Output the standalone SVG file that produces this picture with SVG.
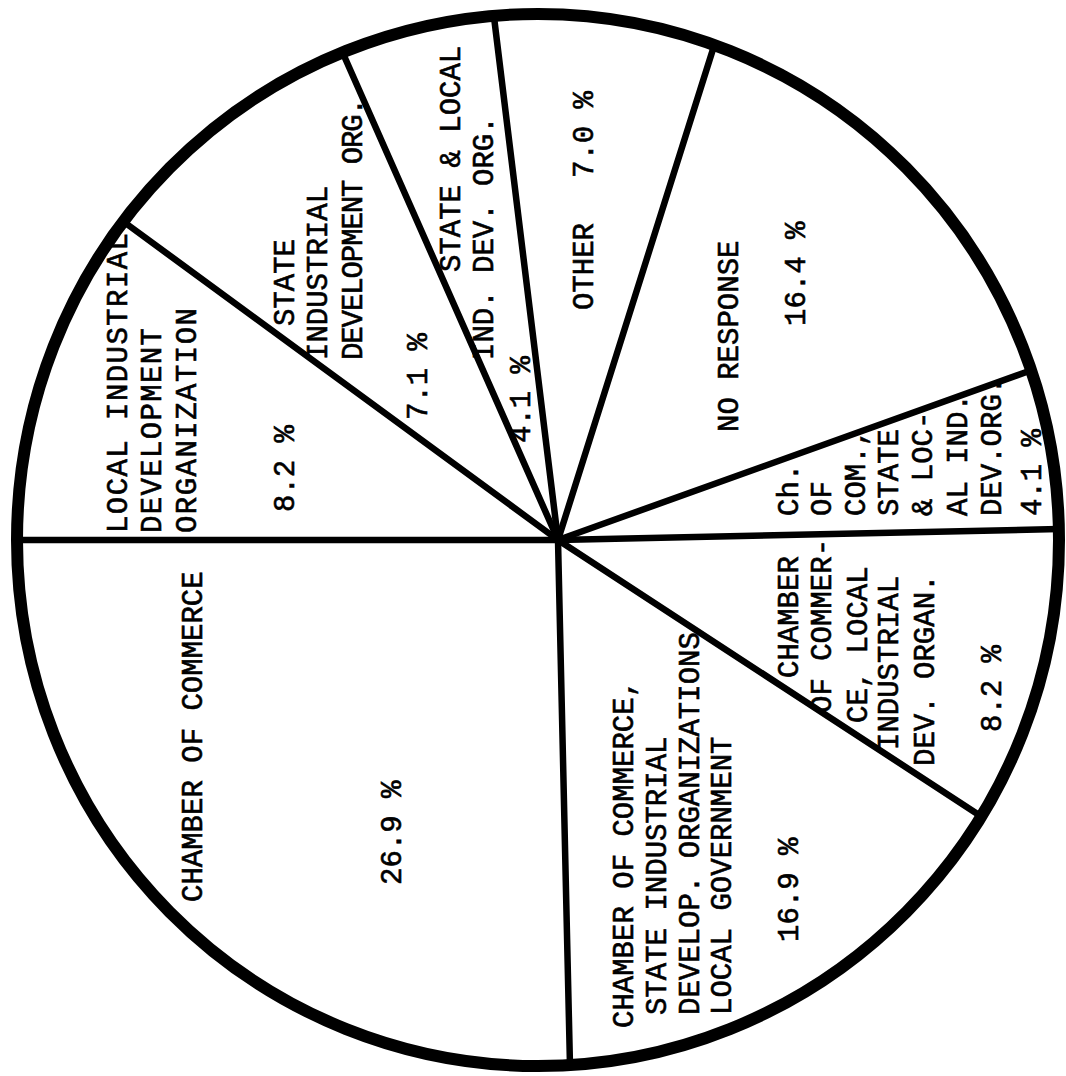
<svg xmlns="http://www.w3.org/2000/svg" width="1066" height="1076" viewBox="0 0 1066 1076">
<style>
.rim{fill:#fff;stroke:#000;stroke-width:12}
.spoke{stroke:#000;stroke-width:6.5;stroke-linecap:round;fill:none}
text{font-family:"Liberation Mono","Courier New",monospace;font-size:29px;fill:#000;stroke:#000;stroke-width:0.6}
</style>
<rect width="1066" height="1076" fill="#fff"/>
<g id="pie-outline"><ellipse class="rim" cx="538" cy="540" rx="521" ry="526"/></g>
<g id="connectors">
<line class="spoke" x1="558" y1="540" x2="17" y2="540"/>
<line class="spoke" x1="558" y1="540" x2="124" y2="222"/>
<line class="spoke" x1="558" y1="540" x2="345" y2="58"/>
<line class="spoke" x1="558" y1="540" x2="494" y2="17"/>
<line class="spoke" x1="558" y1="540" x2="714" y2="46"/>
<line class="spoke" x1="558" y1="540" x2="1032" y2="370"/>
<line class="spoke" x1="558" y1="540" x2="1059" y2="529"/>
<line class="spoke" x1="558" y1="540" x2="979" y2="815"/>
<line class="spoke" x1="558" y1="540" x2="570" y2="1066"/>
</g>
<g id="slice-chamber-of-commerce" transform="rotate(-90)">
<text x="-902" y="202">CHAMBER OF COMMERCE</text>
<text x="-885" y="401">26.9 %</text>
</g>
<g id="slice-local-industrial" transform="rotate(-90)">
<text x="-533" y="127" textLength="300" lengthAdjust="spacing">LOCAL INDUSTRIAL</text>
<text x="-533" y="161" textLength="205" lengthAdjust="spacing">DEVELOPMENT</text>
<text x="-533" y="196" textLength="225" lengthAdjust="spacing">ORGANIZATION</text>
<text x="-512" y="294">8.2 %</text>
</g>
<g id="slice-state-industrial" transform="rotate(-90)">
<text x="-326" y="294">STATE</text>
<text x="-360" y="327">INDUSTRIAL</text>
<text x="-360" y="362" textLength="262" lengthAdjust="spacing">DEVELOPMENT ORG.</text>
<text x="-420" y="427">7.1 %</text>
</g>
<g id="slice-state-local" transform="rotate(-90)">
<text x="-272" y="460">STATE &amp; LOCAL</text>
<text x="-360" y="493">IND. DEV. ORG.</text>
<text x="-443" y="530">4.1 %</text>
</g>
<g id="slice-other" transform="rotate(-90)">
<text x="-310" y="593">OTHER</text>
<text x="-178" y="593">7.0 %</text>
</g>
<g id="slice-no-response" transform="rotate(-90)">
<text x="-432" y="738">NO RESPONSE</text>
<text x="-326" y="805">16.4 %</text>
</g>
<g id="slice-ch-state-local" transform="rotate(-90)">
<text x="-516" y="798">Ch.</text>
<text x="-516" y="831">OF</text>
<text x="-516" y="865">COM.,</text>
<text x="-516" y="898">STATE</text>
<text x="-516" y="932">&amp; LOC-</text>
<text x="-516" y="967">AL IND.</text>
<text x="-516" y="1001">DEV.ORG.</text>
<text x="-516" y="1041">4.1 %</text>
</g>
<g id="slice-ch-local" transform="rotate(-90)">
<text x="-678" y="798">CHAMBER</text>
<text x="-713" y="831">OF COMMER-</text>
<text x="-723" y="867">CE, LOCAL</text>
<text x="-750" y="898">INDUSTRIAL</text>
<text x="-766" y="934">DEV. ORGAN.</text>
<text x="-732" y="1001">8.2 %</text>
</g>
<g id="slice-ch-state-local-gov" transform="rotate(-90)">
<text x="-1028" y="633">CHAMBER OF COMMERCE,</text>
<text x="-1015" y="666">STATE INDUSTRIAL</text>
<text x="-1015" y="699">DEVELOP. ORGANIZATIONS</text>
<text x="-1015" y="731">LOCAL GOVERNMENT</text>
<text x="-942" y="798">16.9 %</text>
</g>
</svg>
